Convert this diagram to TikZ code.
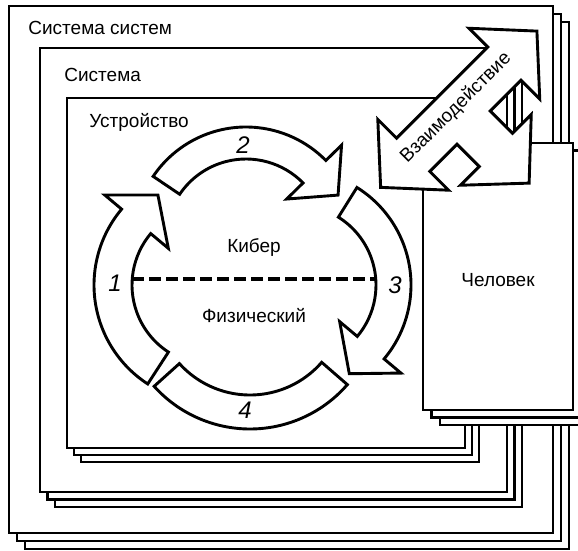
\documentclass[tikz,border=0pt]{standalone}
\usepackage{fontspec}
\setmainfont{Liberation Sans}
\usetikzlibrary{calc}

% curved arrow: centre, inner radius, outer radius, tail angle, head angle
\newcommand{\ringarrow}[5]{%
  \draw[ring] ($(#1)+({#4}:{#3})$) arc[start angle=#4, end angle=#5, radius=#3]
    -- ($(#1)+({#5}:{#3+22})$) -- ($(#1)+({#5-19}:{(#2+#3)/2+6})$)
    -- ($(#1)+({#5}:{#2-23})$) -- ($(#1)+({#5}:{#2})$)
    arc[start angle=#5, end angle=#4, radius=#2] -- cycle;}

\begin{document}
\begin{tikzpicture}[x=1pt,y=1pt,thick]
    % `frame' is used for the nested boxes and their shadow copies.
    % `ring' is used for the four curved arrows round the device.
    % `block' is used for the big interaction arrow.
    \tikzstyle{frame} = [draw,fill=white,line width=2.4pt]
    \tikzstyle{ring} = [draw,fill=white,line width=2.9pt,line join=miter]
    \tikzstyle{block} = [draw,fill=white,line width=2.9pt,line join=miter]
    \tikzstyle{txt} = [inner sep=0pt,font=\fontsize{19}{22}\selectfont]
    \tikzstyle{frametitle} = [txt,anchor=base west]
    \tikzstyle{numeral} = [inner sep=0pt,font=\fontsize{24}{28}\selectfont\itshape]
    \tikzstyle{divider} = [line width=3.2pt,dash pattern=on 12pt off 5pt]
    %
    \clip (0,0) rectangle (578,550);
    % Draw the three stacks of frames, back copies first.
    \foreach \k in {2,1,0}
      \draw[frame] ({9+8*\k},{17-8*\k}) rectangle ++(544,527);
    \foreach \k in {2,1,0}
      \draw[frame] ({40+7.5*\k},{58-7.5*\k}) rectangle ++(467,444);
    \foreach \k in {2,1,0}
      \draw[frame] ({67+7*\k},{102-7*\k}) rectangle ++(398,350);
    \node[frametitle] (sos) at (28,515) {Система систем};
    \node[frametitle] (sys) at (64,468) {Система};
    \node[frametitle] (dev) at (89,422) {Устройство};
    %
    % The cycle of the device.
    \coordinate (c1) at (212,265);
    \coordinate (c2) at (246,311);
    \coordinate (c3) at (296,265);
    \coordinate (c4) at (250,250);
    \ringarrow{c1}{80}{118}{237}{140}
    \ringarrow{c2}{80}{112}{146}{44.5}
    \ringarrow{c3}{80}{115}{58}{-40}
    \draw[ring] ($(c4)+(222:129)$) arc[start angle=222, end angle=319, radius=129]
      -- ($(c4)+(319:95)$) arc[start angle=319, end angle=222, radius=95] -- cycle;
    \coordinate (dl) at (132,271);
    \coordinate (dr) at (376,271);
    \draw[divider] (dl) -- (dr);
    \node[txt] (cyber) at (254,302) {Кибер};
    \node[txt] (phys) at (254,234) {Физический};
    \node[numeral] (n1) at (115,267) {1};
    \node[numeral] (n2) at (243,405) {2};
    \node[numeral] (n3) at (395,265) {3};
    \node[numeral] (n4) at (245,140) {4};
    %
    % The human and his stack.
    \foreach \k in {2,1,0}
      \draw[frame] ({423+8.5*\k},{140-7.5*\k}) rectangle ++(150,267);
    \node[txt] (human) at (498,270) {Человек};
    %
    % Interaction arrow with three heads.
    \begin{scope}[shift={(457,439)},rotate=45]
      \draw[block] (113,0) -- (67,50) -- (67,23.5) -- (-62,23.5) -- (-62,50)
        -- (-108,0) -- (-62,-50) -- (-62,-23.5) -- (-23.5,-23.5) -- (-23.5,-55)
        -- (-50,-55) -- (0,-102) -- (50,-55) -- (23.5,-55) -- (23.5,-23.5)
        -- (67,-23.5) -- (67,-50) -- cycle;
    \end{scope}
    \node[txt,rotate=45] (interact) at (456,442) {Взаимодействие};
\end{tikzpicture}
\end{document}
